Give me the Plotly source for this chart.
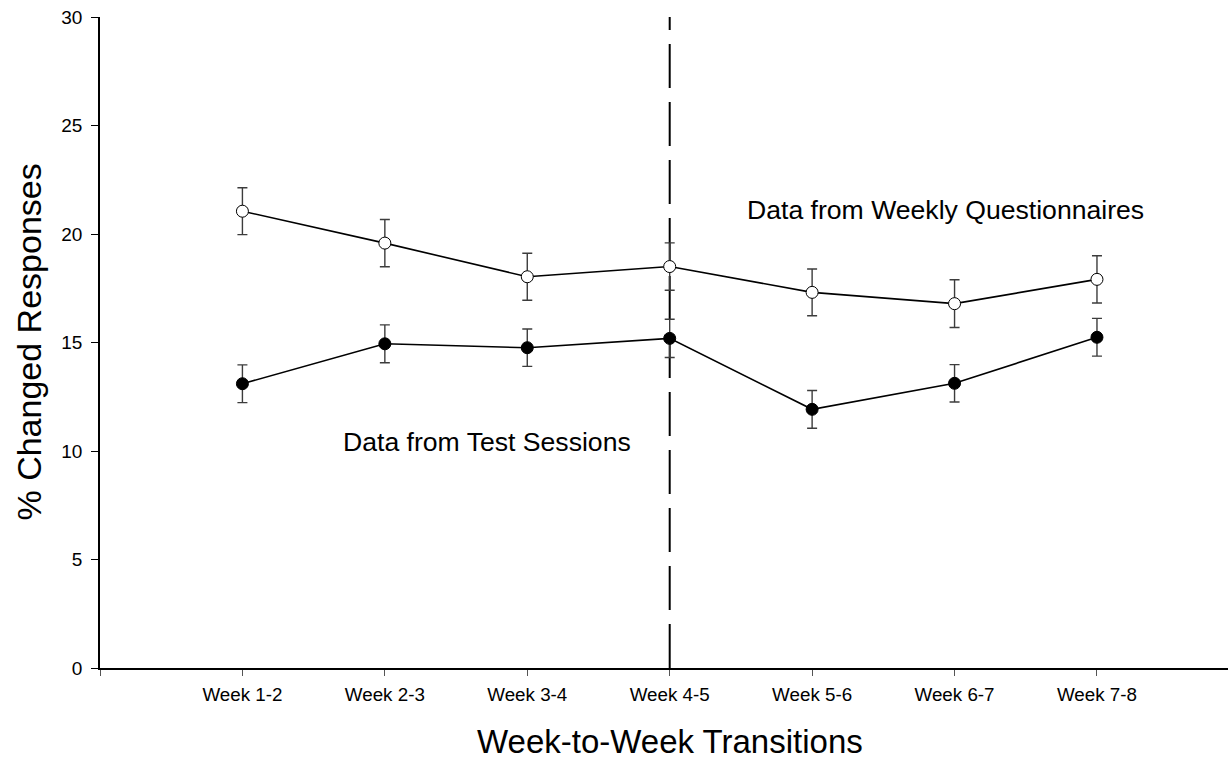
import plotly.graph_objects as go

# Week-to-week transitions
transitions = ["Week 1-2", "Week 2-3", "Week 3-4", "Week 4-5", "Week 5-6", "Week 6-7", "Week 7-8"]
positions = [1, 2, 3, 4, 5, 6, 7]

# % changed responses, weekly questionnaires (mean and standard error)
questionnaire_mean = [21.05, 19.58, 18.03, 18.50, 17.31, 16.79, 17.91]
questionnaire_se = [1.08, 1.09, 1.08, 1.09, 1.08, 1.10, 1.09]

# % changed responses, test sessions (mean and standard error)
session_mean = [13.10, 14.94, 14.76, 15.19, 11.92, 13.12, 15.24]
session_se = [0.87, 0.87, 0.86, 0.88, 0.87, 0.86, 0.87]

y_ticks = [0, 5, 10, 15, 20, 25, 30]

FONT = "Arial, Liberation Sans, sans-serif"

fig = go.Figure()

err_style = dict(type="data", visible=True, color="#3c3c3c", thickness=1.4, width=5)

fig.add_trace(go.Scatter(
    x=positions, y=questionnaire_mean,
    error_y=dict(array=questionnaire_se, **err_style),
    mode="lines+markers",
    line=dict(color="black", width=1.6),
    marker=dict(symbol="circle", size=12, color="white", line=dict(color="black", width=1)),
    showlegend=False,
))

fig.add_trace(go.Scatter(
    x=positions, y=session_mean,
    error_y=dict(array=session_se, **err_style),
    mode="lines+markers",
    line=dict(color="black", width=1.6),
    marker=dict(symbol="circle", size=12, color="black", line=dict(color="black", width=1)),
    showlegend=False,
))

# Dashed divider at the Week 4-5 transition
fig.add_shape(
    type="line", xref="x", yref="y",
    x0=positions[3], x1=positions[3], y0=0, y1=30,
    line=dict(color="black", width=2, dash="44px,14px"),
    layer="below",
)

fig.add_annotation(
    x=5.935, y=21.1, xref="x", yref="y",
    text="Data from Weekly Questionnaires", showarrow=False,
    font=dict(family=FONT, size=26.6, color="black"),
)
fig.add_annotation(
    x=2.72, y=10.4, xref="x", yref="y",
    text="Data from Test Sessions", showarrow=False,
    font=dict(family=FONT, size=26.6, color="black"),
)

# Axis titles
fig.add_annotation(
    x=0.505, y=-0.1135,
    xref="paper", yref="paper",
    text="Week-to-Week Transitions", showarrow=False,
    xanchor="center", yanchor="middle",
    font=dict(family=FONT, size=33, color="black"),
)
fig.add_annotation(
    x=-0.0638, y=0.5, xref="paper", yref="paper",
    text="% Changed Responses", showarrow=False, textangle=-90,
    xanchor="center", yanchor="middle",
    font=dict(family=FONT, size=34, color="black"),
)

fig.update_layout(
    width=1228, height=762,
    margin=dict(l=100, r=0, t=17, b=94),
    paper_bgcolor="white", plot_bgcolor="white",
    font=dict(family=FONT, color="black"),
)

fig.update_xaxes(
    range=[0, 7.92],
    tickmode="array",
    tickvals=[0] + positions,
    ticktext=[""] + transitions,
    ticks="outside", ticklen=6, tickwidth=1, tickcolor="#555555",
    tickfont=dict(family=FONT, size=18.8, color="black"),
    ticklabelstandoff=3,
    showline=True, linecolor="black", linewidth=1.5,
    showgrid=False, zeroline=False,
)
fig.update_yaxes(
    range=[0, 30],
    tickmode="array", tickvals=y_ticks,
    ticks="outside", ticklen=7, tickwidth=1, tickcolor="black",
    tickfont=dict(family=FONT, size=19, color="black"),
    ticklabelstandoff=5,
    showline=True, linecolor="black", linewidth=1.5,
    showgrid=False, zeroline=False,
)

fig.write_html("out.html")
